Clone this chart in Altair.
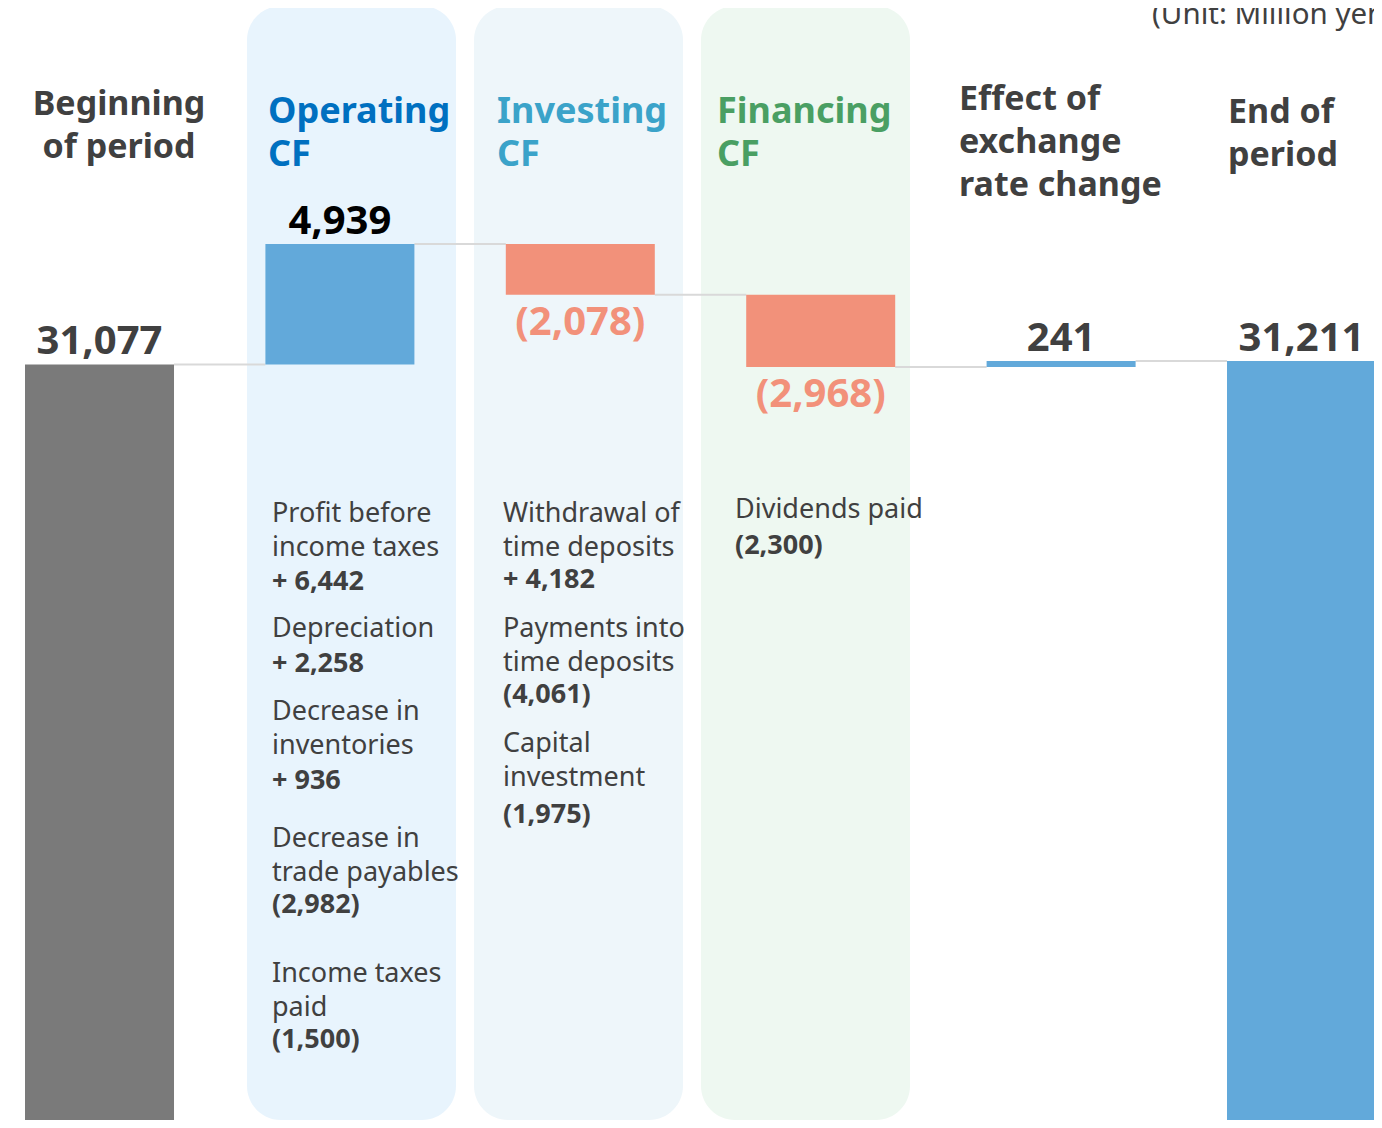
import altair as alt
import pandas as pd

# ---------------- data ----------------
categories = ["Beginning of period", "Operating CF", "Investing CF", "Financing CF",
              "Effect of exchange rate change", "End of period"]
amounts = [31077, 4939, -2078, -2968, 241, 31211]
kinds = ["total", "delta", "delta", "delta", "delta", "total"]
value_labels = ["31,077", "4,939", "(2,078)", "(2,968)", "241", "31,211"]

header_lines = [["Beginning", "of period"], ["Operating", "CF"], ["Investing", "CF"],
                ["Financing", "CF"], ["Effect of", "exchange", "rate change"], ["End of", "period"]]

op_labels = [["Profit before", "income taxes"], ["Depreciation"], ["Decrease in", "inventories"],
             ["Decrease in", "trade payables"], ["Income taxes", "paid"]]
op_values = ["+ 6,442", "+ 2,258", "+ 936", "(2,982)", "(1,500)"]
inv_labels = [["Withdrawal of", "time deposits"], ["Payments into", "time deposits"], ["Capital", "investment"]]
inv_values = ["+ 4,182", "(4,061)", "(1,975)"]
fin_labels = [["Dividends paid"]]
fin_values = ["(2,300)"]
unit_note = "(Unit: Million yen)"

# ---------------- styles / layout ----------------
FONT = "Noto Sans"
GRAY_TXT = "#404040"
BAR_COLORS = {"begin": "#7A7A7A", "pos": "#62A9DA", "neg": "#F2917A", "end": "#62A9DA"}
LABEL_COLORS = ["#404040", "#000000", "#F2917A", "#F2917A", "#404040", "#404040"]
HEADER_COLORS = [GRAY_TXT, "#0070C0", "#3BA3C9", "#4A9F63", GRAY_TXT, GRAY_TXT]
HEADER_X = [111, 260, 489, 709, 951, 1220]
HEADER_Y = [107, 115, 115, 115, 102, 115]
HEADER_ALIGN = ["center", "left", "left", "left", "left", "left"]
PANELS = [(239, 448, "#E8F4FD"), (466, 675, "#EEF6FA"), (693, 902, "#EEF8F1")]
W, H = 1366, 1112
YMIN, YMAX = 82, 45696

# ---------------- build tables ----------------
rows = []
running = 0
for i, (cat, amt, kind, lab) in enumerate(zip(categories, amounts, kinds, value_labels)):
    if kind == "total":
        start, end = 0, amt
        grp = "begin" if i == 0 else "end"
    else:
        start, end = running, running + amt
        grp = "pos" if amt >= 0 else "neg"
    running = end
    top = max(start, end) if amt >= 0 else min(start, end)
    rows.append(dict(category=cat, start=start, end=end, fill=BAR_COLORS[grp],
                     label=lab, label_y=top, label_color=LABEL_COLORS[i],
                     sign="neg" if (kind == "delta" and amt < 0) else "pos"))
df = pd.DataFrame(rows)

conn = pd.DataFrame([dict(src=categories[i], dst=categories[i + 1], level=rows[i]["end"])
                     for i in range(len(categories) - 1)])

xscale = alt.Scale(domain=categories, paddingInner=0.5, paddingOuter=0.0911, align=0.717)
yscale = alt.Scale(domain=[YMIN, YMAX], nice=False, zero=False)

X = alt.X("category:N", scale=xscale, axis=None, sort=categories)

layers = []

# background panels
for x0, x1, col in PANELS:
    layers.append(
        alt.Chart(pd.DataFrame({"k": [0]})).mark_rect(fill=col, cornerRadius=34).encode(
            x=alt.value(x0), x2=alt.value(x1), y=alt.value(-2), y2=alt.value(1112))
    )

# connectors
layers.append(
    alt.Chart(conn).mark_rule(color="#D9D9D9", strokeWidth=2, xOffset=74.5, x2Offset=-74.5).encode(
        x=alt.X("src:N", scale=xscale, axis=None, sort=categories),
        x2="dst:N",
        y=alt.Y("level:Q", scale=yscale, axis=None))
)

# bars
layers.append(
    alt.Chart(df).mark_bar(width=149, clip=True).encode(
        x=X,
        y=alt.Y("start:Q", scale=yscale, axis=None),
        y2="end:Q",
        fill=alt.Fill("fill:N", scale=None))
)

# value labels
for sgn, dy in (("pos", -10), ("neg", 40)):
    layers.append(
        alt.Chart(df).transform_filter(alt.datum.sign == sgn).mark_text(
            font=FONT, fontSize=40, fontWeight="bold", align="center",
            baseline="alphabetic", dy=dy).encode(
            x=X,
            y=alt.Y("label_y:Q", scale=yscale, axis=None),
            text="label:N",
            color=alt.Color("label_color:N", scale=None))
    )

# headers
for lines, hx, hy, al, col in zip(header_lines, HEADER_X, HEADER_Y, HEADER_ALIGN, HEADER_COLORS):
    size = 34 if col == GRAY_TXT else 36
    layers.append(
        alt.Chart(pd.DataFrame({"k": [0]})).mark_text(
            font=FONT, fontSize=size, fontWeight="bold", align=al, baseline="alphabetic",
            lineHeight=43, color=col).encode(
            x=alt.value(hx), y=alt.value(hy), text=alt.value(lines))
    )

# detail texts
detail_layout = [
    (264, [514, 629, 712, 839, 974], [582, 664, 781, 905, 1040], op_labels, op_values, 34),
    (495, [514, 629, 744], [580, 695, 815], inv_labels, inv_values, 34),
    (727, [510], [546], fin_labels, fin_values, 34),
]
for dx, lys, vys, labs, vals, lh in detail_layout:
    for ly, vy, lab, val in zip(lys, vys, labs, vals):
        layers.append(
            alt.Chart(pd.DataFrame({"k": [0]})).mark_text(
                font=FONT, fontSize=27, align="left", baseline="alphabetic",
                lineHeight=lh, color=GRAY_TXT).encode(
                x=alt.value(dx), y=alt.value(ly), text=alt.value(lab))
        )
        layers.append(
            alt.Chart(pd.DataFrame({"k": [0]})).mark_text(
                font=FONT, fontSize=27, fontWeight="bold", align="left", baseline="alphabetic",
                color=GRAY_TXT).encode(
                x=alt.value(dx), y=alt.value(vy), text=alt.value(val))
        )

# unit note (clipped at the top-right corner, as in the original)
layers.append(
    alt.Chart(pd.DataFrame({"k": [0]})).mark_text(
        font=FONT, fontSize=29.5, align="left", baseline="alphabetic", color=GRAY_TXT).encode(
        x=alt.value(1144), y=alt.value(16), text=alt.value(unit_note))
)

chart = alt.layer(*layers).properties(
    width=W, height=H, padding=0,
    autosize=alt.AutoSizeParams(type="none"),
    background="white",
).configure_view(strokeWidth=0)

chart.save("out.html", embed_options={"renderer": "svg", "actions": False})
